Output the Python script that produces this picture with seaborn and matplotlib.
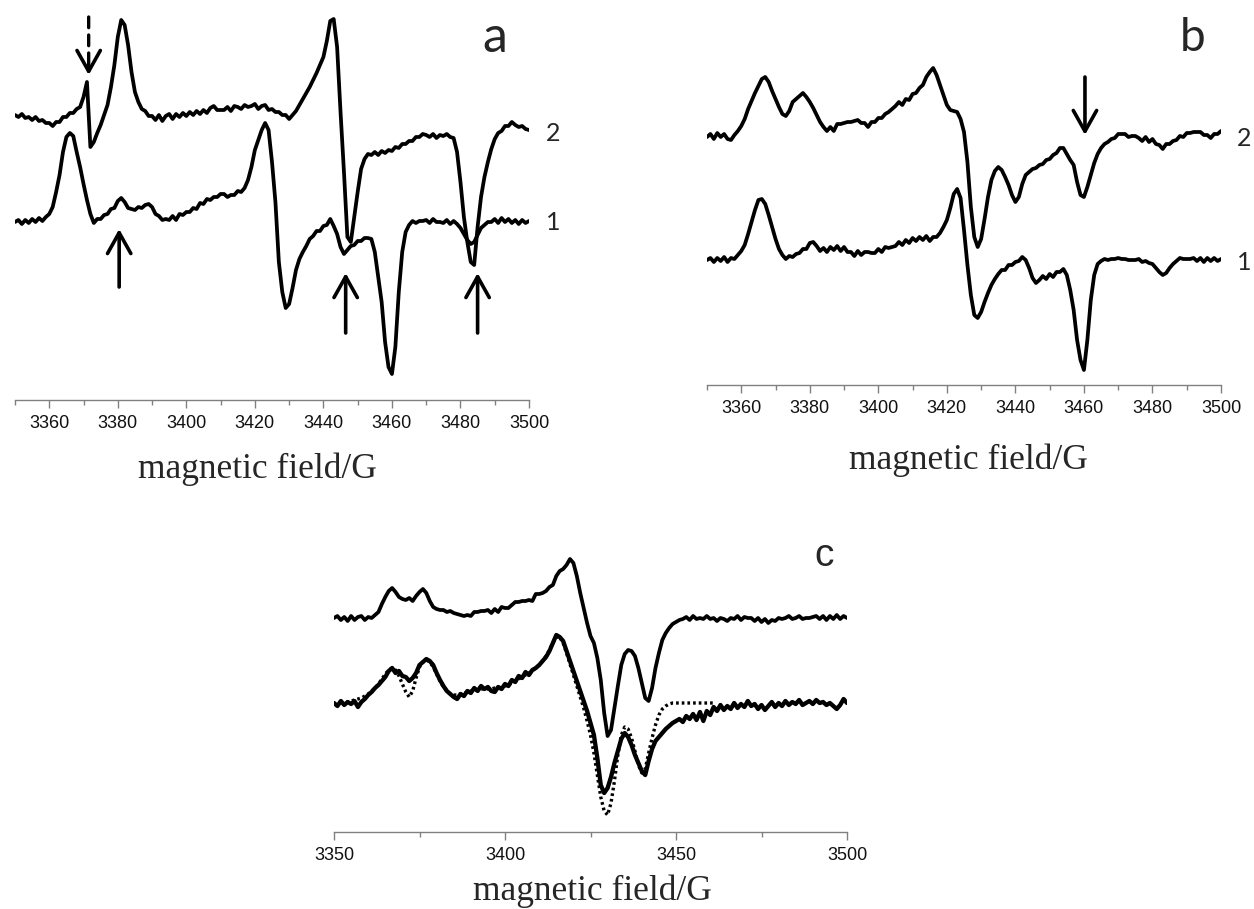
import numpy as np
import pandas as pd
import matplotlib
matplotlib.use("Agg")
import matplotlib.pyplot as plt
import seaborn as sns

# ---------------------------------------------------------------------------
# EPR spectra, first-derivative signal (arbitrary units), sampled every 1 G
# ---------------------------------------------------------------------------
field = np.arange(3350, 3501)          # magnetic field / G
fit_field = np.arange(3352, 3462)      # field range of the simulated spectrum (panel c)

# panel a
a_spec2 = [2, 0, 3, -1, 0, -3, 0, -4, -3, -6, -6, -9, -5, -5, 0, 0, 4, 4, 8, 10,
           20, 35, -30, -25, -16, -8, 2, 12, 30, 52, 80, 97, 92, 72, 45, 25, 15, 8, 6, 1,
           1, -3, 2, -4, 1, 3, -2, 3, 0, 4, 1, 5, 2, 6, 3, 7, 4, 9, 11, 7,
           7, 7, 10, 6, 11, 10, 8, 12, 10, 11, 13, 8, 11, 12, 7, 8, 5, 5, 2, 2,
           -2, 2, 6, 12, 18, 24, 30, 37, 44, 52, 60, 76, 96, 98, 70, 5, -55, -120, -125, -100,
           -75, -52, -42, -37, -38, -35, -38, -34, -36, -33, -34, -30, -31, -27, -27, -24, -24, -20, -20, -17,
           -18, -20, -17, -21, -18, -19, -17, -20, -21, -35, -65, -100, -125, -145, -148, -110, -80, -60, -45, -32,
           -22, -16, -14, -9, -9, -5, -8, -10, -9, -12, -13]
a_spec1 = [0, 2, -2, 2, -1, 3, 0, 4, 1, 5, 8, 15, 30, 47, 70, 85, 89, 86, 70, 55,
           38, 22, 8, -1, 3, 3, 7, 8, 13, 14, 21, 24, 20, 14, 13, 12, 15, 14, 17, 18,
           15, 8, 6, 2, 3, 2, 6, 2, 8, 7, 10, 10, 14, 13, 19, 18, 23, 22, 25, 25,
           28, 28, 25, 27, 27, 31, 30, 34, 42, 55, 72, 82, 92, 99, 92, 60, 20, -40, -70, -86,
           -82, -66, -48, -37, -30, -24, -17, -14, -9, -9, -4, -3, 3, -4, -12, -25, -32, -28, -24, -23,
           -19, -19, -16, -16, -17, -30, -55, -80, -120, -145, -152, -125, -70, -30, -10, -3, 1, -1, 1, 1,
           2, -1, 3, 0, 0, -1, 2, -2, 1, -2, -6, -12, -18, -22, -20, -13, -6, -3, 0, 0,
           3, -1, 4, 0, 3, -1, 2, -2, 2, -1, 1]

# panel b
b_spec2 = [0, 3, -2, 4, 0, 3, -2, -3, 2, 6, 11, 18, 28, 36, 44, 51, 58, 60, 55, 46,
           38, 30, 23, 21, 26, 35, 38, 41, 44, 40, 35, 29, 22, 15, 10, 6, 10, 6, 13, 13,
           14, 15, 15, 16, 17, 14, 14, 10, 15, 15, 19, 19, 23, 25, 28, 31, 35, 32, 38, 37,
           43, 44, 49, 52, 60, 65, 69, 62, 52, 42, 32, 27, 26, 25, 18, 5, -25, -70, -100, -110,
           -102, -82, -60, -43, -34, -30, -33, -40, -48, -58, -65, -60, -47, -38, -35, -32, -31, -28, -27, -23,
           -22, -18, -16, -11, -11, -17, -23, -28, -45, -58, -60, -50, -38, -26, -17, -11, -7, -5, -2, -1,
           3, 3, 3, 0, 1, 1, -1, -4, 0, -5, -2, -7, -8, -12, -7, -7, -4, -3, 1, 0,
           4, 4, 5, 5, 5, 2, 2, -1, 3, 3, 6]
b_spec1 = [0, 2, -2, 2, -1, 3, -2, 2, 1, 5, 9, 15, 26, 38, 50, 60, 61, 56, 45, 33,
           21, 11, 5, 1, 4, 3, 6, 7, 11, 11, 17, 18, 14, 9, 12, 8, 13, 10, 14, 9,
           13, 8, 8, 4, 9, 5, 8, 8, 7, 7, 11, 8, 13, 12, 13, 14, 18, 15, 20, 17,
           22, 19, 23, 20, 24, 19, 23, 23, 27, 33, 40, 52, 66, 71, 62, 30, -5, -35, -55, -58,
           -52, -42, -33, -25, -19, -14, -10, -10, -5, -5, -2, -1, 3, 0, -8, -18, -23, -20, -16, -19,
           -14, -17, -12, -12, -9, -15, -30, -50, -80, -100, -110, -80, -40, -15, -4, -1, 1, 0, 1, 1,
           2, 1, 1, 0, 0, 0, 1, -2, -1, -3, -4, -8, -12, -15, -13, -8, -4, -1, 2, 1,
           1, 1, 2, -1, 2, -2, 2, -1, 2, -1, 1]

# panel c
c_spec2 = [0, 2, -2, 1, -3, 2, -2, 1, 2, -2, 1, 0, 3, 6, 14, 21, 27, 30, 26, 21,
           19, 18, 20, 17, 22, 26, 29, 25, 17, 11, 9, 8, 8, 6, 7, 5, 4, 3, 2, 3,
           2, 6, 6, 7, 7, 8, 5, 9, 6, 11, 10, 10, 13, 16, 16, 17, 17, 18, 17, 24,
           24, 25, 27, 31, 33, 42, 47, 49, 53, 59, 55, 42, 25, 10, -5, -18, -25, -40, -62, -95,
           -118, -112, -90, -68, -47, -36, -32, -33, -38, -50, -65, -80, -83, -70, -50, -35, -22, -15, -10, -6,
           -4, -2, -1, 1, -2, 2, -1, 0, -1, 2, -1, 0, -3, 0, -1, -3, 0, -1, 2, -2,
           1, 0, 0, -3, 0, -4, -1, -5, -2, -3, 0, -1, 0, 2, -1, 0, 2, -1, 0, 0,
           1, 2, -1, 2, -2, 2, -1, 3, -1, 2, 0]
c_spec1 = [0, -3, 2, -2, 1, -1, 2, -4, 1, 4, 8, 11, 15, 18, 22, 26, 32, 35, 30, 32,
           27, 26, 22, 25, 30, 38, 41, 44, 42, 38, 30, 23, 17, 12, 9, 6, 4, 9, 7, 12,
           10, 15, 12, 17, 14, 16, 12, 11, 16, 14, 19, 17, 23, 21, 27, 25, 31, 28, 33, 35,
           38, 42, 46, 52, 60, 68, 66, 62, 52, 42, 32, 22, 12, 2, -8, -20, -32, -55, -82, -90,
           -85, -74, -60, -48, -36, -30, -34, -42, -52, -60, -68, -72, -58, -46, -38, -34, -30, -26, -23, -20,
           -18, -16, -19, -13, -16, -11, -17, -9, -18, -8, -12, -4, -8, -2, -7, -3, -6, 0, -5, -1,
           -4, 2, -3, -1, -6, -2, -7, -3, 1, -4, 0, -3, 2, -2, 1, -1, 3, -2, 0, 2,
           -1, 3, 0, 1, -2, 0, -3, -6, -2, 4, 0]
c_fit = [0, 1, 1, 2, 3, 4, 5, 7, 9, 12, 15, 19, 24, 29, 33, 35, 33, 27, 19, 11,
         6, 12, 25, 36, 41, 43, 41, 36, 29, 22, 16, 12, 9, 8, 8, 9, 10, 11, 12, 13,
         13, 14, 14, 14, 14, 15, 15, 16, 17, 18, 20, 22, 24, 26, 28, 30, 32, 35, 38, 42,
         47, 53, 60, 66, 66, 60, 50, 39, 28, 17, 6, -5, -18, -32, -50, -72, -94, -108, -112, -100,
         -78, -52, -32, -24, -26, -35, -48, -62, -70, -66, -50, -35, -22, -12, -6, -3, -1, 0, 0, 0,
         0, 0, 0, 0, 0, 0, 0, 0, 0, 0]

trace_labels = ["1", "2"]
panel_letters = ["a", "b", "c"]
xlabel_text = "magnetic field/G"

# ---------------------------------------------------------------------------
W, H = 1254, 909
sns.set_theme(style="white")
plt.rcParams["font.family"] = ["Liberation Sans", "DejaVu Sans"]
fig = plt.figure(figsize=(W / 100, H / 100), dpi=100)
fig.patch.set_facecolor("white")


def add_panel(left, right, top, bottom):
    """Axes placed by pixel edges; y data runs in downward pixel units (negated)."""
    ax = fig.add_axes([left / W, (H - bottom) / H, (right - left) / W, (bottom - top) / H])
    ax.set_xlim(3350, 3500)
    ax.set_ylim(-bottom, -top)
    ax.set_facecolor("none")
    for s in ("left", "right", "top"):
        ax.spines[s].set_visible(False)
    ax.spines["bottom"].set_color("#808080")
    ax.spines["bottom"].set_linewidth(1.0)
    ax.set_yticks([])
    ax.tick_params(axis="x", which="both", bottom=True, direction="out", color="#808080",
                   labelsize=13, labelcolor="#111111", pad=5)
    ax.tick_params(axis="x", which="major", length=5.5, width=1.0)
    ax.tick_params(axis="x", which="minor", length=3.5, width=1.0)
    ax.grid(False)
    return ax


def draw(ax, x, y, base, **kw):
    df = pd.DataFrame({"B": x, "signal": np.asarray(y, dtype=float) - base})
    sns.lineplot(data=df, x="B", y="signal", ax=ax, estimator=None, sort=False,
                 legend=False, **kw)
    ax.set_xlabel("")
    ax.set_ylabel("")


HEAD = "->,head_length=0.75,head_width=0.42"


def arrow(ax, x, y_tail, y_tip, dashed=False):
    if dashed:
        ax.annotate("", xy=(x, -(y_tip - 8)), xytext=(x, -y_tail),
                    arrowprops=dict(arrowstyle="-", lw=2.4, color="black",
                                    linestyle=(0, (3.2, 2.2)), shrinkA=0, shrinkB=0))
        ax.annotate("", xy=(x, -y_tip), xytext=(x, -(y_tip - 10)),
                    arrowprops=dict(arrowstyle=HEAD, lw=2.6, color="black",
                                    shrinkA=0, shrinkB=0, mutation_scale=20))
    else:
        ax.annotate("", xy=(x, -y_tip), xytext=(x, -y_tail),
                    arrowprops=dict(arrowstyle=HEAD, lw=2.6, color="black",
                                    shrinkA=0, shrinkB=0, mutation_scale=20))


LW = 2.7
major_ab = np.arange(3360, 3501, 20)
minor_ab = np.arange(3350, 3501, 20)

# ----- panel a -----
ax_a = add_panel(15, 529, 5, 400)
ax_a.set_xticks(major_ab)
ax_a.set_xticks(minor_ab, minor=True)
draw(ax_a, field, a_spec2, 117, color="black", linewidth=LW)
draw(ax_a, field, a_spec1, 222, color="black", linewidth=LW)
arrow(ax_a, 3371.5, 17, 75, dashed=True)
arrow(ax_a, 3380.4, 287, 229)
arrow(ax_a, 3446.5, 333, 273)
arrow(ax_a, 3485.0, 333, 273)

# ----- panel b -----
ax_b = add_panel(707, 1221, 5, 385)
ax_b.set_xticks(major_ab)
ax_b.set_xticks(minor_ab, minor=True)
draw(ax_b, field, b_spec2, 137, color="black", linewidth=LW)
draw(ax_b, field, b_spec1, 260, color="black", linewidth=LW)
arrow(ax_b, 3460.3, 77, 135)

# ----- panel c -----
ax_c = add_panel(334, 847, 540, 832)
ax_c.set_xticks([3350, 3400, 3450, 3500])
ax_c.set_xticks([3375, 3425, 3475], minor=True)
draw(ax_c, fit_field, c_fit, 703, color="black", linewidth=2.4, linestyle=(0, (0.8, 0.9)))
draw(ax_c, field, c_spec2, 618, color="black", linewidth=LW)
draw(ax_c, field, c_spec1, 703, color="black", linewidth=3.1)

# ----- text -----
def ftext(x, y, s, **kw):
    fig.text(x / W, 1 - y / H, s, ha="center", va="center", **kw)

serif = ["Liberation Serif", "DejaVu Serif"]
ftext(257, 469, xlabel_text, family=serif, fontsize=25.5)
ftext(968, 460, xlabel_text, family=serif, fontsize=25.5)
ftext(592, 891, xlabel_text, family=serif, fontsize=25.5)

ftext(495, 38, panel_letters[0], family=["Lato", "DejaVu Sans"], fontsize=36)
ftext(1193, 38, panel_letters[1], family=["Lato", "DejaVu Sans"], fontsize=33)
ftext(824, 556, panel_letters[2], family=["Liberation Sans", "DejaVu Sans"], fontsize=28)

num_font = ["Lato", "DejaVu Sans"]
ftext(553, 134, trace_labels[1], family=num_font, fontsize=18)
ftext(553, 222, trace_labels[0], family=num_font, fontsize=18)
ftext(1244, 138, trace_labels[1], family=num_font, fontsize=18)
ftext(1244, 263, trace_labels[0], family=num_font, fontsize=18)

fig.savefig("out.png", dpi=100, facecolor="white")
